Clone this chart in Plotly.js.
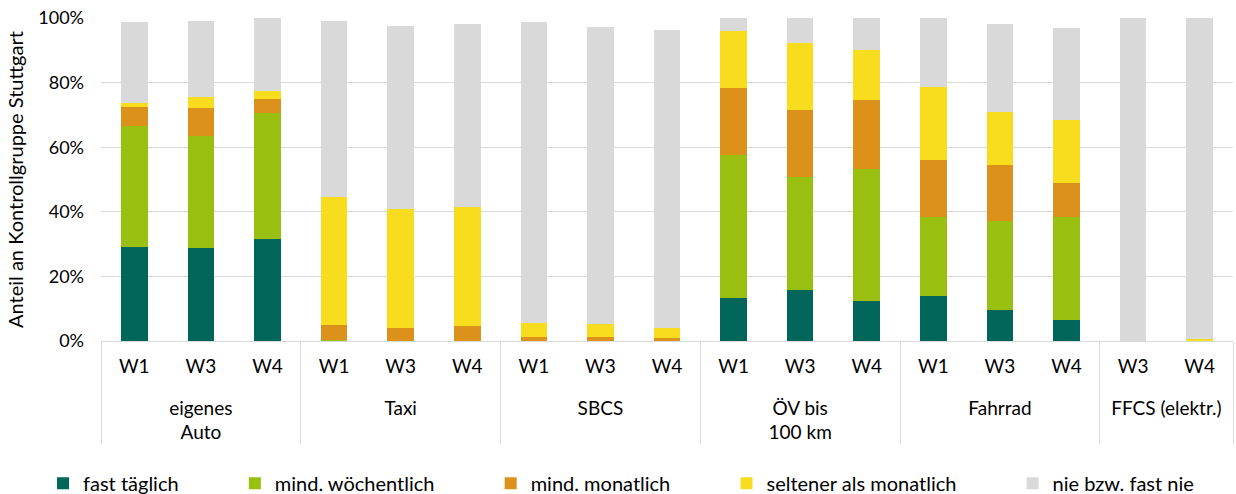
<!DOCTYPE html>
<html><head><meta charset="utf-8">
<script src="https://cdn.plot.ly/plotly-3.0.1.min.js"></script>
<style>html,body{margin:0;padding:0;background:#fff}#chart{width:1236px;height:494px}</style>
</head><body><div id="chart"></div>
<script>
const groups = ["eigenes<br>Auto","eigenes<br>Auto","eigenes<br>Auto","Taxi","Taxi","Taxi","SBCS","SBCS","SBCS","ÖV bis<br>100 km","ÖV bis<br>100 km","ÖV bis<br>100 km","Fahrrad","Fahrrad","Fahrrad","FFCS (elektr.)","FFCS (elektr.)"];
const waves = ["W1","W3","W4","W1","W3","W4","W1","W3","W4","W1","W3","W4","W1","W3","W4","W3","W4"];
const seriesNames = ["fast täglich","mind. wöchentlich","mind. monatlich","seltener als monatlich","nie bzw. fast nie"];
const fastTaeglich   = [29.2,28.7,31.7,0,0,0,0,0,0,13.2,15.9,12.5,14.0,9.7,6.5,0,0];
const mindWoechentl  = [37.5,34.9,39.0,0.3,0,0,0,0,0,44.4,34.8,40.7,24.3,27.4,31.8,0,0];
const mindMonatlich  = [5.8,8.6,4.3,4.7,4.0,4.6,1.1,1.3,0.9,20.6,20.8,21.3,17.7,17.3,10.7,0,0];
const seltener       = [1.1,3.3,2.4,39.5,36.8,36.8,4.4,3.9,3.2,17.8,20.9,15.5,22.6,16.6,19.3,0,0.7];
const nieFastNie     = [25.2,23.6,22.6,54.7,56.7,56.6,93.3,92.1,92.3,4.0,7.6,10.0,21.4,27.0,28.6,100,99.3];
const colors = ["#00665a","#99c010","#dc911b","#f8dc1e","#d9d9d9"];
const allValues = [fastTaeglich,mindWoechentl,mindMonatlich,seltener,nieFastNie];

// leading line break pushes the group labels below the wave labels
const groupLabels = groups.map(g => "<br>" + g);
const pad = "\u00A0".repeat(10);
const traces = allValues.map((vals,i)=>({
  type:"bar",
  name: seriesNames[i] + (i<4 ? pad : ""),
  x:[groupLabels,waves],
  y: vals.map(v=>v/100),
  marker:{color:colors[i]}
}));

const layout = {
  width:1236, height:494,
  margin:{l:101,r:3,t:18,b:153,autoexpand:false},
  barmode:"stack",
  bargap:0.6,
  font:{family:"Lato, 'Open Sans', sans-serif", size:19, color:"#000"},
  paper_bgcolor:"#fff", plot_bgcolor:"#fff",
  xaxis:{type:"multicategory", automargin:false, showline:true, linecolor:"#d9d9d9", linewidth:1,
         dividercolor:"#d9d9d9", dividerwidth:1, showdividers:true, ticklabelstandoff:8,
         tickfont:{size:19, color:"#000"}, ticks:"", showgrid:false},
  yaxis:{range:[0,1], dtick:0.2, tickformat:".0%", gridcolor:"#d9d9d9", gridwidth:1, automargin:false,
         zeroline:false, showline:false, ticks:"", tickfont:{size:18,color:"#000"}, ticklabelstandoff:16,
         title:{text:"Anteil an Kontrollgruppe Stuttgart", font:{size:20,color:"#000"}, standoff:9}},
  showlegend:true,
  legend:{orientation:"h", x:-0.0512, xanchor:"left", y:-0.38, yanchor:"top",
          font:{size:20,color:"#000"}, traceorder:"normal"}
};
Plotly.newPlot("chart", traces, layout, {staticPlot:true, displayModeBar:false});
</script></body></html>
